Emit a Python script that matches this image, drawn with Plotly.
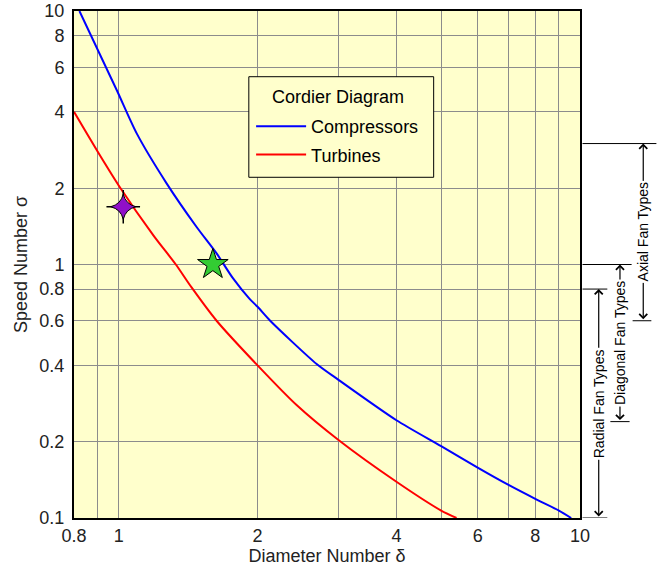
import numpy as np
import plotly.graph_objects as go

# ---- data ----
comp_delta = [0.822, 0.99, 1.094, 1.27, 1.474, 1.63, 1.77, 1.924, 2.0, 2.13, 2.686, 3.0, 4.0, 5.0, 6.0, 7.0, 8.0, 9.0, 9.57]
comp_sigma = [10.0, 4.88, 3.29, 2.09, 1.409, 1.106, 0.881, 0.73, 0.681, 0.6, 0.405, 0.35, 0.243, 0.192, 0.158, 0.135, 0.119, 0.107, 0.1]

turb_delta = [0.8, 0.9, 1.0, 1.19, 1.33, 1.44, 1.63, 2.0, 2.43, 3.0, 4.0, 5.0, 5.4]
turb_sigma = [4.0, 2.79, 2.05, 1.3, 1.0, 0.81, 0.6, 0.4, 0.279, 0.2026, 0.139, 0.107, 0.1]

purple_point = (1.023, 1.69)
green_point = (1.6, 1.0)

x_tickvals = [0.8, 0.9, 1, 2, 3, 4, 5, 6, 7, 8, 9, 10]
x_ticktext = ["0.8", "", "1", "2", "", "4", "", "6", "", "8", "", "10"]
y_tickvals = [0.1, 0.2, 0.4, 0.6, 0.8, 1, 2, 4, 6, 8, 10]
y_ticktext = ["0.1", "0.2", "0.4", "0.6", "0.8", "1", "2", "4", "6", "8", "10"]

fan_names = ["Axial Fan Types", "Diagonal Fan Types", "Radial Fan Types"]
fan_sigma_low = [0.6, 0.24, 0.1]
fan_sigma_high = [3.0, 1.0, 0.8]

legend_title = "Cordier Diagram"

FONT = "Arial, Liberation Sans, sans-serif"
BG = "#FFFFCC"
FS = 18

fig = go.Figure()
fig.add_trace(go.Scatter(x=comp_delta, y=comp_sigma, mode="lines", name="Compressors",
                         line=dict(color="#0000FF", width=2, shape="spline", smoothing=0.7),
                         legendgroup="c"))
fig.add_trace(go.Scatter(x=turb_delta, y=turb_sigma, mode="lines", name="Turbines",
                         line=dict(color="#FF0000", width=2, shape="spline", smoothing=0.7),
                         legendgroup="t"))
fig.add_trace(go.Scatter(x=[purple_point[0]], y=[purple_point[1]], mode="markers", showlegend=False,
                         marker=dict(symbol="cross-thin", size=24, line=dict(color="black", width=1.5))))
fig.add_trace(go.Scatter(x=[purple_point[0]], y=[purple_point[1]], mode="markers", showlegend=False,
                         marker=dict(symbol="star-diamond", size=18, color="#9010C8",
                                     line=dict(color="black", width=1))))
fig.add_trace(go.Scatter(x=[green_point[0]], y=[green_point[1]], mode="markers", showlegend=False,
                         marker=dict(symbol="star", size=23, color="#33CC33",
                                     line=dict(color="black", width=1))))

# bracket geometry (in x-domain fractions)
arrow_x = [1.125, 1.079, 1.037]
top_line = [(1.005, 1.151), (1.005, 1.102), (1.005, 1.054)]
bot_line = [(1.104, 1.141), (1.060, 1.098), (1.005, 1.054)]

shapes = []
annotations = []
for i, name in enumerate(fan_names):
    lo = fan_sigma_low[i]
    hi = fan_sigma_high[i]
    shapes.append(dict(type="line", xref="x domain", yref="y", x0=top_line[i][0], x1=top_line[i][1],
                       y0=hi, y1=hi, line=dict(color="black", width=1)))
    shapes.append(dict(type="line", xref="x domain", yref="y", x0=bot_line[i][0], x1=bot_line[i][1],
                       y0=lo, y1=lo, line=dict(color="black", width=1)))
    annotations.append(dict(xref="x domain", yref="y", x=arrow_x[i], y=np.log10(hi),
                            axref="x domain", ayref="y", ax=arrow_x[i], ay=np.log10(lo),
                            text="", showarrow=True, arrowhead=4, arrowside="end+start",
                            arrowsize=1.3, arrowwidth=1.2, arrowcolor="black",
                            startarrowhead=4, startarrowsize=1.3, standoff=0, startstandoff=0))
    annotations.append(dict(xref="x domain", yref="y", x=arrow_x[i],
                            y=(np.log10(lo) + np.log10(hi)) / 2,
                            xanchor="center", yanchor="middle",
                            text=name, showarrow=False, textangle=-90, bgcolor="white",
                            font=dict(family=FONT, size=14, color="black"), borderpad=1))

# legend box drawn as a shape, with its title as an annotation
shapes.append(dict(type="rect", xref="paper", yref="paper", x0=0.3455, x1=0.7108, y0=0.672, y1=0.8704,
                   fillcolor=BG, line=dict(color="black", width=1), layer="above"))
annotations.append(dict(xref="paper", yref="paper", x=0.5218, y=0.831, text=legend_title,
                        showarrow=False, xanchor="center", yanchor="middle",
                        font=dict(family=FONT, size=FS, color="black")))

fig.update_layout(
    width=672, height=571,
    margin=dict(l=74, r=91.5, t=11, b=53, autoexpand=False),
    paper_bgcolor="white", plot_bgcolor=BG,
    font=dict(family=FONT, size=FS, color="#222222"),
    shapes=shapes, annotations=annotations,
    legend=dict(x=0.350, y=0.8087, xanchor="left", yanchor="top",
                bgcolor="rgba(0,0,0,0)", borderwidth=0,
                font=dict(size=FS, family=FONT, color="black"),
                tracegroupgap=2, itemwidth=50),
)
fig.update_xaxes(type="log", range=[np.log10(0.8), 1], tickvals=x_tickvals, ticktext=x_ticktext,
                 showgrid=True, gridcolor="#8C8C8C", gridwidth=1.2, ticks="", automargin=False,
                 showline=True, linecolor="black", linewidth=2, mirror=True,
                 title=dict(text="Diameter Number δ", font=dict(size=FS, family=FONT, color="#222222"), standoff=5),
                 tickfont=dict(size=FS), zeroline=False)
fig.update_yaxes(type="log", range=[-1, 1], tickvals=y_tickvals, ticktext=y_ticktext,
                 showgrid=True, gridcolor="#8C8C8C", gridwidth=1.2, ticks="", automargin=False,
                 showline=True, linecolor="black", linewidth=2, mirror=True,
                 title=dict(text="Speed Number σ", font=dict(size=FS, family=FONT, color="#222222"), standoff=7),
                 tickfont=dict(size=FS), ticklabelstandoff=4, zeroline=False)

fig.write_html("out.html", config={"displayModeBar": False},
               post_script="document.body.style.margin='0px';")
